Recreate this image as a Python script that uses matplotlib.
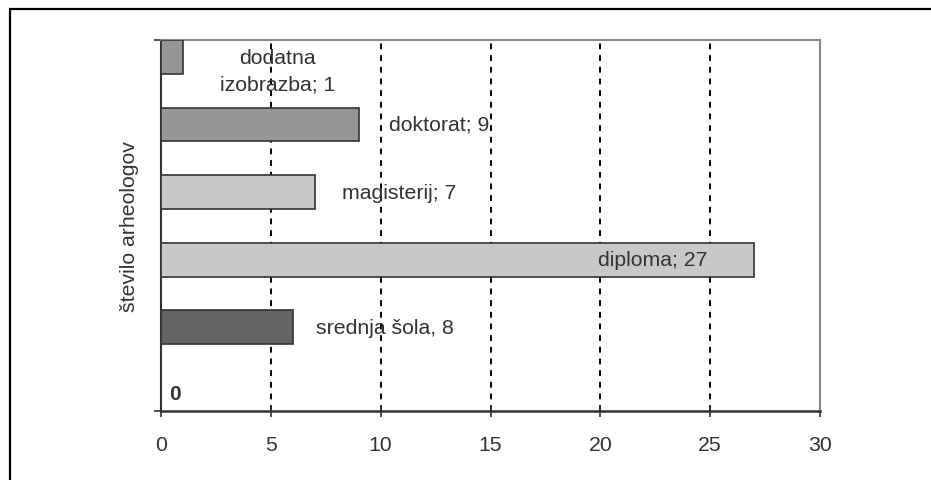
import matplotlib.pyplot as plt
from matplotlib.patches import Rectangle

plt.rcParams['font.family'] = ['Liberation Sans', 'DejaVu Sans']

# podatki
categories = ['srednja šola', 'diploma', 'magisterij', 'doktorat', 'dodatna izobrazba']
values = [6, 27, 7, 9, 1]
labels = ['srednja šola, 8', 'diploma; 27', 'magisterij; 7', 'doktorat; 9', 'dodatna\nizobrazba; 1']
colors = ['#646464', '#c8c8c8', '#c8c8c8', '#969696', '#969696']
xticks = [0, 5, 10, 15, 20, 25, 30]

positions = [1, 2, 3, 4, 5]
label_x = [7.05, 19.9, 8.25, 10.4, 5.3]
label_ha = ['left', 'left', 'left', 'left', 'center']
label_y = [1, 2, 3, 4, 4.8]

fig = plt.figure(figsize=(9.31, 4.81), dpi=100)
ax = fig.add_axes([161/931, 69/481, 659/931, 371/481])

# okvir okrog slike
fig.patches.append(Rectangle((10/931, -0.5), 2, (471/481) + 0.5, transform=fig.transFigure,
                             fill=False, edgecolor='black', linewidth=1.6, zorder=0))

ax.barh(positions, values, height=0.5, color=colors, edgecolor='#333333', linewidth=1.2, zorder=3)

for x, y, t, ha in zip(label_x, label_y, labels, label_ha):
    ax.text(x, y, t, ha=ha, va='center', fontsize=15.3, color='#333333', linespacing=1.5, zorder=4)

ax.text(0.65, 0.02, '0', fontsize=15, fontweight='bold', color='#333333', ha='center', va='center')

ax.set_xlim(0, 30)
ax.set_ylim(-0.24, 5.25)
ax.set_xticks(xticks)
ax.set_xticklabels([str(v) for v in xticks], fontsize=15.3, color='#333333')
ax.set_yticks([-0.24, 5.25])
ax.set_yticklabels([])
ax.tick_params(axis='x', direction='inout', length=8, width=1.2, color='#333333', pad=13.5)
ax.tick_params(axis='y', direction='out', length=5, width=1.2, color='#333333')

ax.grid(axis='x', color='black', linestyle=(0, (3, 3)), linewidth=1.4, zorder=1)
ax.set_axisbelow(True)
ax.axvline(30, color='black', linestyle=(0, (3, 3)), linewidth=1.4, zorder=2)

ax.spines['left'].set_color('#333333')
ax.spines['bottom'].set_color('#333333')
ax.spines['left'].set_linewidth(1.5)
ax.spines['bottom'].set_linewidth(1.8)
ax.spines['top'].set_color('#888888')
ax.spines['right'].set_color('#888888')
ax.spines['top'].set_linewidth(1.5)
ax.spines['right'].set_linewidth(1.5)

ax.set_ylabel('število arheologov', fontsize=15.3, color='#333333', labelpad=7)

fig.savefig('out.png', dpi=100)
